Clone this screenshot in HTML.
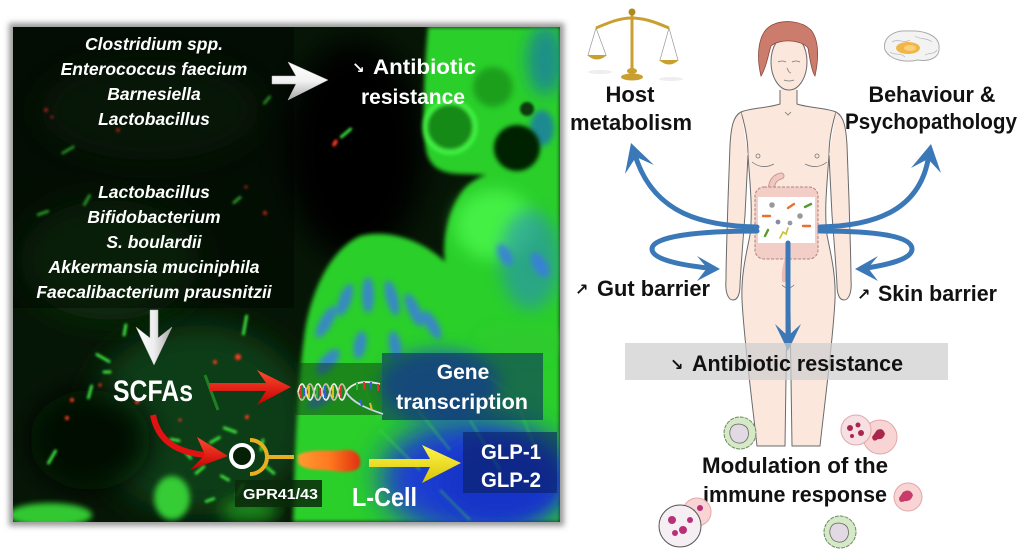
<!DOCTYPE html>
<html><head><meta charset="utf-8"><style>
html,body{margin:0;padding:0;background:#fff;width:1024px;height:554px;overflow:hidden}
svg{display:block}
</style></head><body>
<svg width="1024" height="554" viewBox="0 0 1024 554" xmlns="http://www.w3.org/2000/svg" font-family="'Liberation Sans','DejaVu Sans',sans-serif">
<defs>
 <filter id="b1" x="-20%" y="-20%" width="140%" height="140%"><feGaussianBlur stdDeviation="1.2"/></filter>
 <filter id="b2" x="-20%" y="-20%" width="140%" height="140%"><feGaussianBlur stdDeviation="2"/></filter>
 <filter id="b3" x="-20%" y="-20%" width="140%" height="140%"><feGaussianBlur stdDeviation="3"/></filter>
 <filter id="b8" x="-50%" y="-50%" width="200%" height="200%"><feGaussianBlur stdDeviation="8"/></filter>
 <filter id="b15" x="-50%" y="-50%" width="200%" height="200%"><feGaussianBlur stdDeviation="15"/></filter>
 <clipPath id="pc"><rect x="13" y="27" width="547" height="495"/></clipPath>
 <linearGradient id="wg" x1="0" y1="0" x2="0" y2="1"><stop offset="0" stop-color="#ffffff"/><stop offset="0.5" stop-color="#f2f2f2"/><stop offset="1" stop-color="#a8a8a8"/></linearGradient>
 <linearGradient id="wg2" x1="0" y1="0" x2="1" y2="0"><stop offset="0" stop-color="#ffffff"/><stop offset="0.5" stop-color="#eeeeee"/><stop offset="1" stop-color="#a8a8a8"/></linearGradient>
 <linearGradient id="rg" x1="0" y1="0" x2="0" y2="1"><stop offset="0" stop-color="#ff4a30"/><stop offset="1" stop-color="#c40000"/></linearGradient>
 <linearGradient id="yg" x1="0" y1="0" x2="0" y2="1"><stop offset="0" stop-color="#fff650"/><stop offset="1" stop-color="#d8c400"/></linearGradient>
 <linearGradient id="lc" x1="0" y1="0" x2="1" y2="0"><stop offset="0" stop-color="#ff9a30"/><stop offset="0.5" stop-color="#ff7a20"/><stop offset="1" stop-color="#e03010"/></linearGradient>
</defs>

<!-- ===== LEFT MICROSCOPY PANEL ===== -->
<rect x="9" y="23" width="555" height="503" fill="#9a9a9a" filter="url(#b3)"/>
<g clip-path="url(#pc)">
 <rect x="13" y="27" width="547" height="495" fill="#061606"/>
 <!-- haze -->
 <ellipse cx="200" cy="420" rx="110" ry="95" fill="#113c13" filter="url(#b15)"/>
 <ellipse cx="110" cy="260" rx="90" ry="60" fill="#0e2e10" filter="url(#b15)"/>
 <ellipse cx="150" cy="110" rx="110" ry="50" fill="#0c260d" filter="url(#b15)"/>
 <ellipse cx="90" cy="440" rx="60" ry="50" fill="#031003" filter="url(#b15)"/>
 <ellipse cx="355" cy="150" rx="70" ry="110" fill="#010601" filter="url(#b15)"/>
 <!-- tissue -->
 <path d="M428,27 L560,27 L560,522 L293,522 C295,440 298,380 305,330 C312,290 330,250 360,236 C390,228 425,242 445,262 C441,235 452,200 467,186 C475,179 482,176 487,175 L465,174 C445,174 430,170 426,150 C422,120 424,70 428,27 Z" fill="#2acf2a" filter="url(#b2)"/>
 <ellipse cx="495" cy="225" rx="40" ry="35" fill="#44f044" filter="url(#b8)"/>
 <ellipse cx="545" cy="60" rx="18" ry="35" fill="#1d8f88" filter="url(#b8)"/>
 <ellipse cx="542" cy="128" rx="12" ry="18" fill="#1f8a90" filter="url(#b3)"/>
 <!-- holes -->
 <circle cx="493" cy="87" r="20" fill="#1fa01f" filter="url(#b3)"/>
 <circle cx="450" cy="127" r="25" fill="#168a18" stroke="#48ff48" stroke-width="4" filter="url(#b2)"/>
 <circle cx="517" cy="148" r="23" fill="#052005" filter="url(#b2)"/>
 <circle cx="527" cy="109" r="7" fill="#0a3a0c" filter="url(#b1)"/>
 <!-- blue nuclei -->
 <ellipse cx="475" cy="478" rx="95" ry="60" fill="#1a3ed0" filter="url(#b15)"/>
 <ellipse cx="500" cy="482" rx="60" ry="38" fill="#1535c8" filter="url(#b8)"/>
 <ellipse cx="530" cy="260" rx="30" ry="50" fill="#2a8cc0" opacity="0.6" filter="url(#b8)"/>
 <ellipse cx="440" cy="385" rx="60" ry="36" fill="#2058c8" opacity="0.7" filter="url(#b8)"/>
 <g fill="#3a7ce2" opacity="0.85" filter="url(#b3)">
  <ellipse cx="326" cy="322" rx="6" ry="18" transform="rotate(30 326 322)"/>
  <ellipse cx="345" cy="300" rx="6" ry="17" transform="rotate(20 345 300)"/>
  <ellipse cx="368" cy="295" rx="6" ry="18" transform="rotate(0 368 295)"/>
  <ellipse cx="392" cy="298" rx="6" ry="18" transform="rotate(-15 392 298)"/>
  <ellipse cx="414" cy="310" rx="6" ry="18" transform="rotate(-25 414 310)"/>
  <ellipse cx="432" cy="325" rx="6" ry="16" transform="rotate(-30 432 325)"/>
  <ellipse cx="328" cy="362" rx="7" ry="16" transform="rotate(40 328 362)"/>
  <ellipse cx="320" cy="400" rx="6" ry="14" transform="rotate(60 320 400)"/>
  <ellipse cx="360" cy="345" rx="6" ry="14" transform="rotate(10 360 345)"/>
  <ellipse cx="395" cy="345" rx="6" ry="14" transform="rotate(-10 395 345)"/>
  <ellipse cx="540" cy="265" rx="7" ry="14" transform="rotate(-30 540 265)"/>
  <ellipse cx="505" cy="255" rx="6" ry="12" transform="rotate(-30 505 255)"/>
 </g>
 <g stroke="#3ee03e" stroke-width="1.6" opacity="0.55" fill="none" filter="url(#b1)">
  <path d="M380,430 L420,470 M410,400 L450,450 M470,420 L500,470 M520,410 L540,460 M440,490 L470,520 M360,380 L380,420 M480,370 L520,400"/>
 </g>
 <ellipse cx="520" cy="343" rx="40" ry="14" fill="#30c830" opacity="0.7" filter="url(#b8)"/>
 <!-- bacteria: red -->
 <g fill="#ff3a20" filter="url(#b1)">
  <circle cx="46" cy="110" r="2"/><circle cx="52" cy="117" r="1.5"/><circle cx="118" cy="130" r="2"/>
  <ellipse cx="335" cy="143" rx="2" ry="4" transform="rotate(30 335 143)"/>
  <circle cx="265" cy="213" r="2.2"/><circle cx="246" cy="187" r="1.5"/><circle cx="238" cy="357" r="3"/>
  <circle cx="215" cy="362" r="2"/><circle cx="72" cy="400" r="2"/><circle cx="67" cy="418" r="2"/>
  <circle cx="247" cy="417" r="2"/><circle cx="137" cy="402" r="2"/><circle cx="100" cy="385" r="1.5"/><circle cx="180" cy="420" r="1.5"/>
 </g>
 <!-- bacteria: green rods -->
 <g stroke="#3ee03e" stroke-width="3" stroke-linecap="round" filter="url(#b1)">
  <line x1="-6" y1="0" x2="6" y2="0" transform="translate(68,150) rotate(-30)"/>
  <line x1="-6" y1="0" x2="6" y2="0" transform="translate(346,133) rotate(-40)"/>
  <line x1="-5" y1="0" x2="5" y2="0" transform="translate(87,200) rotate(-60)"/>
  <line x1="-5" y1="0" x2="5" y2="0" transform="translate(43,213) rotate(-20)"/>
  <line x1="-4" y1="0" x2="4" y2="0" transform="translate(267,100) rotate(-50)"/>
  <line x1="-4" y1="0" x2="4" y2="0" transform="translate(237,200) rotate(-40)"/>
  <line x1="-5" y1="0" x2="5" y2="0" transform="translate(125,330) rotate(-80)"/>
  <line x1="-7" y1="0" x2="7" y2="0" transform="translate(103,358) rotate(30)"/>
  <line x1="-3" y1="0" x2="3" y2="0" transform="translate(107,372)"/>
  <line x1="-6" y1="0" x2="6" y2="0" transform="translate(90,392) rotate(-75)"/>
  <line x1="-7" y1="0" x2="7" y2="0" transform="translate(52,457) rotate(-60)"/>
  <line x1="-9" y1="0" x2="9" y2="0" transform="translate(245,325) rotate(-80)"/>
  <line x1="-5" y1="0" x2="5" y2="0" transform="translate(215,440) rotate(-30)"/>
  <line x1="-6" y1="0" x2="6" y2="0" transform="translate(230,430) rotate(20)"/>
  <line x1="-5" y1="0" x2="5" y2="0" transform="translate(200,470) rotate(-40)"/>
  <line x1="-4" y1="0" x2="4" y2="0" transform="translate(225,478) rotate(30)"/>
  <line x1="-6" y1="0" x2="6" y2="0" transform="translate(240,490) rotate(-60)"/>
  <line x1="-4" y1="0" x2="4" y2="0" transform="translate(188,455) rotate(50)"/>
  <line x1="-5" y1="0" x2="5" y2="0" transform="translate(262,445) rotate(-80)"/>
  <line x1="-4" y1="0" x2="4" y2="0" transform="translate(175,440) rotate(10)"/>
  <line x1="-5" y1="0" x2="5" y2="0" transform="translate(270,470) rotate(40)"/>
  <line x1="-4" y1="0" x2="4" y2="0" transform="translate(210,500) rotate(-20)"/>
 </g>
 <line x1="205" y1="375" x2="218" y2="410" stroke="#2a9a2a" stroke-width="3" opacity="0.7"/>
 <ellipse cx="172" cy="498" rx="18" ry="22" fill="#34cc34" filter="url(#b3)"/>
 <ellipse cx="50" cy="515" rx="42" ry="12" fill="#30c830" filter="url(#b3)"/>
 <ellipse cx="250" cy="510" rx="30" ry="12" fill="#1e8a1e" filter="url(#b8)"/>
 <!-- dark text boxes -->
 <rect x="13" y="27" width="281" height="148" fill="#000" opacity="0.4"/>
 <rect x="13" y="175" width="281" height="133" fill="#000" opacity="0.35"/>
 <rect x="295" y="363" width="87" height="52" fill="#0a300a" opacity="0.45"/>
 <rect x="382" y="353" width="161" height="67" fill="#0a2060" opacity="0.55"/>
 <rect x="463" y="432" width="94" height="61" fill="#0a2060" opacity="0.6"/>
 <rect x="235" y="480" width="87" height="27" fill="#0a2a0a" opacity="0.85"/>
</g>

<!-- left panel texts -->
<g fill="#fff" font-weight="bold" font-style="italic" font-size="17.5" text-anchor="middle">
 <text x="154" y="50">Clostridium spp.</text>
 <text x="154" y="75">Enterococcus faecium</text>
 <text x="154" y="100">Barnesiella</text>
 <text x="154" y="125">Lactobacillus</text>
 <text x="154" y="198">Lactobacillus</text>
 <text x="154" y="223">Bifidobacterium</text>
 <text x="154" y="248">S. boulardii</text>
 <text x="154" y="273">Akkermansia muciniphila</text>
 <text x="154" y="298">Faecalibacterium prausnitzii</text>
</g>
<g fill="#fff" font-weight="bold">
 <text x="352" y="73" font-size="15" font-family="'DejaVu Sans',sans-serif">↘</text>
 <text x="373" y="74" font-size="21" textLength="103" lengthAdjust="spacingAndGlyphs">Antibiotic</text>
 <text x="361" y="104" font-size="21" textLength="104" lengthAdjust="spacingAndGlyphs">resistance</text>
 <text x="113" y="401" font-size="30" textLength="80" lengthAdjust="spacingAndGlyphs">SCFAs</text>
 <text x="463" y="379" font-size="21" text-anchor="middle">Gene</text>
 <text x="396" y="409" font-size="21" textLength="132" lengthAdjust="spacingAndGlyphs">transcription</text>
 <text x="481" y="459" font-size="21" textLength="60" lengthAdjust="spacingAndGlyphs">GLP-1</text>
 <text x="481" y="487" font-size="21" textLength="60" lengthAdjust="spacingAndGlyphs">GLP-2</text>
 <text x="352" y="506" font-size="26" textLength="65" lengthAdjust="spacingAndGlyphs">L-Cell</text>
 <text x="243" y="499" font-size="15" textLength="75" lengthAdjust="spacingAndGlyphs">GPR41/43</text>
</g>

<!-- left arrows -->
<path d="M272,76 L296,76 L288,62 L328,80 L288,100 L296,84 L272,84 Z" fill="url(#wg)" stroke="#bbb" stroke-width="0.5"/>
<path d="M150,310 L158,310 L158,338 L172,327 L154,365 L136,327 L150,338 Z" fill="url(#wg2)" stroke="#bbb" stroke-width="0.5"/>
<path d="M209,383 L266,383 L257,370 L291,387 L257,405 L266,391 L209,391 Z" fill="url(#rg)"/>
<path d="M153,415 C158,440 175,452 205,455" stroke="#e01212" stroke-width="6" fill="none"/>
<polygon points="228,456 197,437 205,455 190,470" fill="url(#rg)"/>
<path d="M369,459 L430,459 L422,445 L461,463 L422,483 L430,467 L369,467 Z" fill="url(#yg)"/>
<!-- receptor -->
<path d="M250,440 A17,17 0 0 1 250,474" stroke="#e8b020" stroke-width="4" fill="none"/>
<line x1="267" y1="457" x2="294" y2="457" stroke="#e8b020" stroke-width="4"/>
<circle cx="242" cy="456" r="11" stroke="#fff" stroke-width="4" fill="#062006"/>
<!-- L-cell -->
<path d="M298,455 C310,448 330,452 345,450 C355,449 362,455 360,465 C358,474 340,472 325,470 C310,470 300,468 298,462 Z" fill="url(#lc)" filter="url(#b1)"/>
<!-- DNA -->
<g fill="none" stroke-width="1.8">
 <path d="M298,392 q4,-16 8,0 t8,0 t8,0 t8,0 t8,0 t8,0" stroke="#e8e8e8"/>
 <path d="M298,392 q4,16 8,0 t8,0 t8,0 t8,0 t8,0 t8,0" stroke="#c8c0a0"/>
 <path d="M346,392 C352,382 365,380 380,384" stroke="#e8e8e8"/>
 <path d="M346,392 C352,402 365,408 383,414" stroke="#c8d8e8"/>
 <g stroke-width="2">
  <line x1="301" y1="386" x2="301" y2="398" stroke="#e03030"/>
  <line x1="304" y1="388" x2="304" y2="396" stroke="#3060e0"/>
  <line x1="309" y1="386" x2="309" y2="398" stroke="#e0c020"/>
  <line x1="317" y1="386" x2="317" y2="398" stroke="#30b030"/>
  <line x1="320" y1="388" x2="320" y2="396" stroke="#e03030"/>
  <line x1="325" y1="386" x2="325" y2="398" stroke="#3060e0"/>
  <line x1="333" y1="386" x2="333" y2="398" stroke="#e0c020"/>
  <line x1="341" y1="386" x2="341" y2="398" stroke="#e03030"/>
  <line x1="357" y1="383" x2="357" y2="390" stroke="#30b030"/>
  <line x1="364" y1="382" x2="364" y2="389" stroke="#e03030"/>
  <line x1="371" y1="382" x2="371" y2="389" stroke="#3060e0"/>
  <line x1="378" y1="384" x2="378" y2="391" stroke="#e03030"/>
  <line x1="362" y1="406" x2="360" y2="399" stroke="#3060e0"/>
  <line x1="372" y1="410" x2="370" y2="403" stroke="#e0c020"/>
 </g>
</g>

<!-- ===== RIGHT SIDE ===== -->
<!-- scale -->
<g>
 <ellipse cx="600" cy="72" rx="12" ry="2" fill="#eee"/>
 <ellipse cx="671" cy="79" rx="12" ry="2" fill="#eee"/>
 <g stroke="#999" stroke-width="0.7">
  <line x1="596" y1="28" x2="588" y2="55"/><line x1="596" y1="28" x2="606" y2="55"/>
  <line x1="669" y1="28" x2="660" y2="60"/><line x1="669" y1="28" x2="678" y2="60"/>
 </g>
 <path d="M596,28 C610,22 620,18 632,18 C644,18 655,22 669,28" stroke="#c9a030" stroke-width="3" fill="none"/>
 <rect x="630.5" y="12" width="3" height="62" fill="#c9a030"/>
 <circle cx="632" cy="12" r="3.5" fill="#b08a20"/>
 <path d="M587,55 Q597,64 607,55 Z" fill="#c9a030"/>
 <path d="M659,60 Q669,69 679,60 Z" fill="#c9a030"/>
 <ellipse cx="632" cy="71" rx="5" ry="3" fill="#c9a030"/>
 <ellipse cx="632" cy="77" rx="11" ry="3.5" fill="#c9a030"/>
</g>
<!-- brain -->
<g>
 <path d="M885,50 C882,38 893,30 908,31 C925,30 940,36 939,48 C940,57 930,62 918,60 C905,63 890,60 885,50 Z" fill="#f3f3f3" stroke="#aaa" stroke-width="1"/>
 <path d="M892,42 C898,38 904,44 910,40 M915,36 C920,40 926,37 932,42 M890,52 C895,56 900,52 905,57 M925,55 C930,52 934,55 937,50" stroke="#bbb" stroke-width="0.8" fill="none"/>
 <ellipse cx="908" cy="48" rx="12" ry="6" fill="#f2b548"/>
 <ellipse cx="910" cy="48" rx="6" ry="3" fill="#f8d27a"/>
</g>
<g font-weight="bold" font-size="22" fill="#111" text-anchor="middle">
 <text x="630" y="102">Host</text>
 <text x="631" y="130" textLength="122" lengthAdjust="spacingAndGlyphs">metabolism</text>
 <text x="932" y="102" textLength="127" lengthAdjust="spacingAndGlyphs">Behaviour &amp;</text>
 <text x="931" y="129" textLength="172" lengthAdjust="spacingAndGlyphs">Psychopathology</text>
</g>

<!-- woman -->
<g stroke="#6a6a6a" stroke-width="1" fill="#fce7dd">
 <rect x="781" y="84" width="16" height="24" stroke="none"/>
 <path d="M780,90 L780,104 C768,108 750,108 741,112 C745,125 748,140 748,155 C750,185 753,210 750,235 C746,255 741,275 742,300 C744,340 752,400 757,446 L785,446 L787,310 L790,310 L792,446 L820,446 C825,400 833,340 835,300 C836,275 831,255 827,235 C824,210 827,185 829,155 C829,140 832,125 836,112 C827,108 809,108 797,104 L797,90"/>
 <path d="M741,112 C733,116 731,128 730,145 L728,200 C727,235 726,260 726,280 C725,292 728,300 733,300 C738,300 740,293 740,285 C741,265 743,240 745,215 L748,155"/>
 <path d="M836,112 C844,116 846,128 847,145 L849,200 C850,235 851,260 851,280 C852,292 849,300 844,300 C839,300 837,293 837,285 C836,265 834,240 832,215 L829,155"/>
 <ellipse cx="789" cy="62" rx="18" ry="28"/>
</g>
<path d="M761,76 C756,55 758,32 772,25 C784,19 802,21 811,30 C819,40 819,58 815,76 C812,72 810,60 808,48 C802,40 780,38 771,46 C768,56 766,68 761,76 Z" fill="#cc7c6c" stroke="#8a4a40" stroke-width="0.8"/>
<g stroke="#777" stroke-width="0.8" fill="none">
 <path d="M778,62 q4,-2 8,0 M792,62 q4,-2 8,0"/>
 <path d="M787,68 q2,5 4,5"/>
 <path d="M784,80 q5,2 10,0"/>
 <path d="M785,112 l3,3 l3,-3"/>
 <path d="M752,162 q10,8 22,2 M805,164 q12,6 22,-2"/>
 <circle cx="758" cy="156" r="2"/><circle cx="817" cy="156" r="2"/>
 <path d="M782,285 q6,6 12,0"/>
</g>
<!-- gut -->
<g>
 <path d="M772,198 C770,186 772,178 781,176" stroke="#c89890" stroke-width="7" fill="none" stroke-linecap="round"/>
 <path d="M772,198 C770,186 772,178 781,176" stroke="#f0c8c0" stroke-width="5" fill="none" stroke-linecap="round"/>
 <rect x="755" y="187" width="63" height="72" rx="9" fill="#f2cec6" stroke="#b08080" stroke-width="1" stroke-dasharray="3 1.5"/>
 <path d="M788,258 C786,266 784,272 785,282" stroke="#e8bcb4" stroke-width="6" fill="none"/>
 <rect x="758" y="197" width="57" height="46" fill="#fff"/>
 <g stroke-width="2.4" stroke-linecap="round">
  <line x1="763" y1="216" x2="770" y2="216" stroke="#e87030"/>
  <line x1="788" y1="208" x2="794" y2="204" stroke="#e87030"/>
  <line x1="803" y1="226" x2="810" y2="226" stroke="#e87030"/>
  <line x1="805" y1="207" x2="811" y2="204" stroke="#5a9a30"/>
  <line x1="765" y1="236" x2="768" y2="230" stroke="#5a9a30"/>
  <path d="M780,238 l3,-6 l3,2 l2,-6" stroke="#c8c030" fill="none" stroke-width="1.6"/>
  <circle cx="772" cy="205" r="1.6" fill="#999" stroke="#999"/>
  <circle cx="800" cy="216" r="1.6" fill="#999" stroke="#999"/>
  <circle cx="790" cy="223" r="1.2" fill="#999" stroke="#999"/>
  <circle cx="778" cy="222" r="1.2" fill="#88a" stroke="#88a"/>
 </g>
</g>
<!-- blue arrows -->
<g stroke="#3a78b8" stroke-width="5" fill="none" stroke-linecap="round">
 <path d="M757,227 C705,226 655,215 636,158"/>
 <path d="M820,227 C872,226 918,212 928,160"/>
 <path d="M757,231 C700,231 652,236 652,249 C652,261 690,266 708,268"/>
 <path d="M820,231 C876,231 912,236 912,249 C912,261 878,266 867,268"/>
 <path d="M788,243 L788,336"/>
</g>
<g fill="#3a78b8">
 <polygon points="631,143 654,165 636,157 625,174"/>
 <polygon points="931,144 941,173 928,159 911,168"/>
 <polygon points="720,269 697,256 707,268 697,281"/>
 <polygon points="855,269 878,256 868,268 878,281"/>
 <polygon points="788,351 775,324 788,336 801,324"/>
</g>
<!-- labels -->
<g font-weight="bold" font-size="22" fill="#111">
 <text x="575" y="295" font-size="16" font-family="'DejaVu Sans',sans-serif">↗</text>
 <text x="597" y="296" textLength="113" lengthAdjust="spacingAndGlyphs">Gut barrier</text>
 <text x="857" y="300" font-size="16" font-family="'DejaVu Sans',sans-serif">↗</text>
 <text x="878" y="301" textLength="119" lengthAdjust="spacingAndGlyphs">Skin barrier</text>
</g>
<rect x="625" y="343" width="323" height="37" fill="#cfcfcf" opacity="0.72"/>
<g font-weight="bold" font-size="22" fill="#111">
 <text x="670" y="370" font-size="16" font-family="'DejaVu Sans',sans-serif">↘</text>
 <text x="692" y="371" textLength="211" lengthAdjust="spacingAndGlyphs">Antibiotic resistance</text>
 <text x="702" y="473" textLength="186" lengthAdjust="spacingAndGlyphs">Modulation of the</text>
 <text x="703" y="502" textLength="184" lengthAdjust="spacingAndGlyphs">immune response</text>
</g>
<!-- immune cells -->
<g>
 <circle cx="740" cy="433" r="16" fill="#d6e9c6" stroke="#6a8a60" stroke-width="1" stroke-dasharray="4 1"/>
 <path d="M731,428 C734,422 746,423 748,430 C750,438 745,444 738,443 C731,442 728,434 731,428 Z" fill="#e2dae2" stroke="#666" stroke-width="0.8"/>
 <circle cx="840" cy="532" r="16" fill="#d6e9c6" stroke="#6a8a60" stroke-width="1" stroke-dasharray="4 1"/>
 <path d="M831,527 C834,521 846,522 848,529 C850,537 845,543 838,542 C831,541 828,533 831,527 Z" fill="#e2dae2" stroke="#666" stroke-width="0.8"/>
 <circle cx="880" cy="437" r="17" fill="#f8d4d4" stroke="#e3a8a8" stroke-width="1"/>
 <circle cx="856" cy="430" r="15" fill="#f6e0e4" stroke="#e3a8a8" stroke-width="1"/>
 <g fill="#a8284c">
  <circle cx="850" cy="428" r="3"/><circle cx="858" cy="425" r="2.5"/><circle cx="861" cy="433" r="3"/><circle cx="852" cy="436" r="2"/>
  <path d="M877,430 q6,-3 8,4 q-2,6 -7,5 q-5,4 -6,-2 z"/>
 </g>
 <circle cx="908" cy="497" r="14" fill="#f8d4d4" stroke="#e3a8a8" stroke-width="1"/>
 <path d="M903,492 q7,-4 10,3 q-2,7 -8,6 q-6,3 -6,-3 z" fill="#c83c6a"/>
 <circle cx="697" cy="512" r="14" fill="#f8d4d4" stroke="#e3a8a8" stroke-width="1"/>
 <circle cx="680" cy="526" r="21" fill="#f5eef3" stroke="#555" stroke-width="1"/>
 <g fill="#b83078"><circle cx="672" cy="520" r="4"/><circle cx="683" cy="530" r="4"/><circle cx="675" cy="533" r="3"/><circle cx="690" cy="520" r="3"/><circle cx="700" cy="508" r="3"/></g>
</g>
</svg>
</body></html>
